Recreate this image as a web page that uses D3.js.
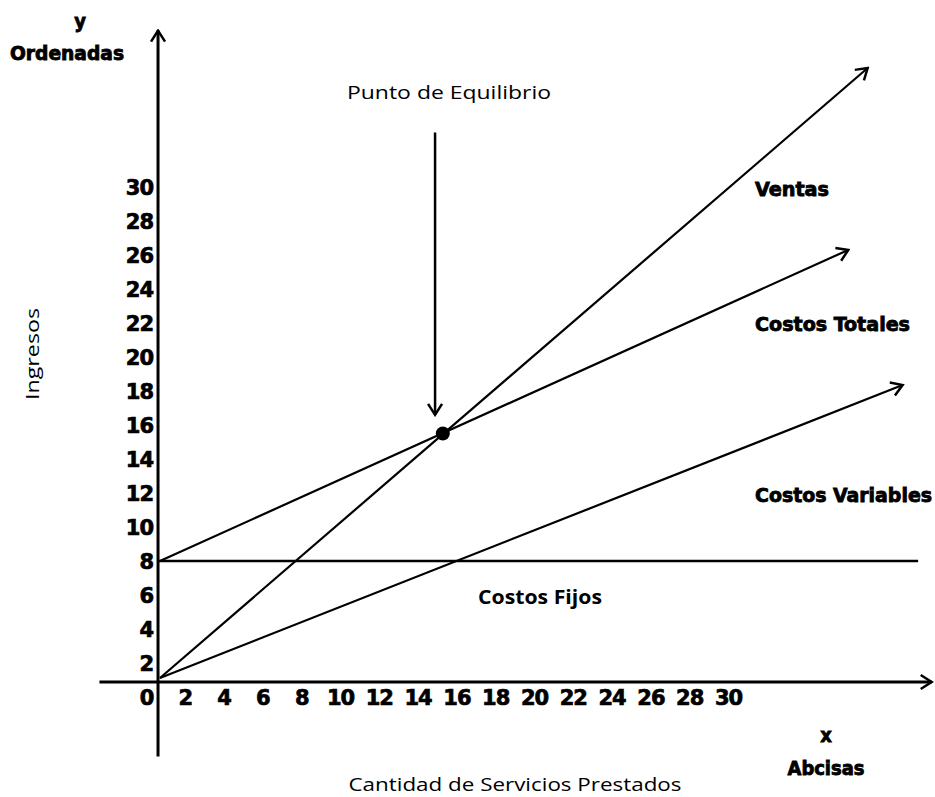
<!DOCTYPE html>
<html><head><meta charset="utf-8">
<script src="https://cdn.jsdelivr.net/npm/d3@7"></script>
<style>body{margin:0;background:#fff}</style></head>
<body><svg id="c" width="935" height="797"></svg>
<script>
// ---- data ----
const xTickValues = [0,2,4,6,8,10,12,14,16,18,20,22,24,26,28,30];
const yTickValues = [2,4,6,8,10,12,14,16,18,20,22,24,26,28,30];
const lineNames  = ["Ventas","Costos Totales","Costos Variables"];
const lineStartX = [0.72, 0.72, 0.72];
const lineStartY = [1.12, 8, 1.12];
const lineEndX   = [37.2, 36.2, 39.0];
const lineEndY   = [37.0, 26.3, 18.35];
const fixedCost  = 8;
const fixedFromX = 0.62, fixedToX = 39.8;
const breakEvenX = 15.3, breakEvenY = 15.5;
const pointerX = 14.9, pointerFromY = 33.2, pointerToY = 16.6;
const yAxisAtX = 0.62, yAxisFrom = -3.5, yAxisTo = 39.2;
const xAxisAtY = 0.88, xAxisFrom = -2.4, xAxisTo = 40.5;

const svg = d3.select("#c");
const x = d3.scaleLinear().domain([0,30]).range([146,728]);
const y = d3.scaleLinear().domain([0,30]).range([697,187]);

const defs = svg.append("defs");
defs.append("marker").attr("id","arr").attr("markerUnits","userSpaceOnUse")
  .attr("viewBox","-14 -9 16 18").attr("refX",0).attr("refY",0)
  .attr("markerWidth",16).attr("markerHeight",18).attr("orient","auto")
  .append("path").attr("d","M-11,-7L0,0L-11,7").attr("fill","none")
  .attr("stroke","#000").attr("stroke-width",2.5);

const boldFont = "'DejaVu Sans Condensed','DejaVu Sans',sans-serif";
const tickFont = "'DejaVu Sans',sans-serif";
const regFont = "'Open Sans','Noto Sans',sans-serif";

// axes lines
svg.append("line").attr("x1",x(yAxisAtX)).attr("x2",x(yAxisAtX))
  .attr("y1",y(yAxisFrom)).attr("y2",y(yAxisTo)).attr("stroke","#000")
  .attr("stroke-width",3).attr("marker-end","url(#arr)");
svg.append("line").attr("x1",x(xAxisFrom)).attr("x2",x(xAxisTo))
  .attr("y1",y(xAxisAtY)).attr("y2",y(xAxisAtY)).attr("stroke","#000")
  .attr("stroke-width",3).attr("marker-end","url(#arr)");

// tick labels
function styleTicks(g){
  g.select(".domain").remove();
  g.selectAll("text").attr("dy","0.36em")
    .attr("font-family",tickFont).attr("font-weight","bold").attr("font-size",21)
    .attr("letter-spacing",-1).attr("fill","#000")
    .attr("stroke","#000").attr("stroke-width",0.7);
}
const gx = svg.append("g").attr("transform",`translate(0,${y(0)})`)
  .call(d3.axisBottom(x).tickValues(xTickValues).tickSize(0).tickPadding(0).tickFormat(d3.format("d")));
styleTicks(gx); gx.selectAll("text").attr("y",0);

const gy = svg.append("g").attr("transform",`translate(153,0)`)
  .call(d3.axisLeft(y).tickValues(yTickValues).tickSize(0).tickPadding(0).tickFormat(d3.format("d")));
styleTicks(gy); gy.selectAll("text").attr("x",0);

// fixed cost line
svg.append("line").attr("x1",x(fixedFromX)).attr("x2",x(fixedToX))
  .attr("y1",y(fixedCost)).attr("y2",y(fixedCost))
  .attr("stroke","#000").attr("stroke-width",2.5);

// cost / sales lines
lineNames.forEach((n,i)=>{
  svg.append("line").attr("x1",x(lineStartX[i])).attr("y1",y(lineStartY[i]))
    .attr("x2",x(lineEndX[i])).attr("y2",y(lineEndY[i]))
    .attr("stroke","#000").attr("stroke-width",2.2).attr("marker-end","url(#arr)");
});

// pointer arrow
svg.append("line").attr("x1",x(pointerX)).attr("x2",x(pointerX))
  .attr("y1",y(pointerFromY)).attr("y2",y(pointerToY))
  .attr("stroke","#000").attr("stroke-width",2.5).attr("marker-end","url(#arr)");

// break-even dot
svg.append("circle").attr("cx",x(breakEvenX)).attr("cy",y(breakEvenY)).attr("r",7).attr("fill","#000");

// texts
function txt(t, cx, cy, len, opts){
  const e = svg.append("text").text(t).attr("x",cx).attr("y",cy).attr("dy","0.36em")
    .attr("font-family",opts.bold?boldFont:regFont)
    .attr("font-weight",opts.weight||(opts.bold?"bold":"normal"))
    .attr("font-size",opts.size||18).attr("fill","#000")
    .attr("text-anchor",opts.anchor||"middle");
  if(opts.bold) e.attr("stroke","#000").attr("stroke-width",0.8);
  if(len) e.attr("textLength",len).attr("lengthAdjust","spacingAndGlyphs");
  if(opts.rotate) e.attr("transform",`rotate(-90,${cx},${cy})`);
  return e;
}
txt("y", 80, 21, null, {bold:true, size:20});
txt("Ordenadas", 67, 53, 114, {bold:true, size:20});
txt("Ventas", 755, 189, 74, {bold:true, size:20, anchor:"start"});
txt("Costos Totales", 755, 324, 155, {bold:true, size:20, anchor:"start"});
txt("Costos Variables", 755, 495, 177, {bold:true, size:20, anchor:"start"});
txt("Punto de Equilibrio", 449, 92, 204, {size:19});
txt("Costos Fijos", 540, 597, 124, {size:19, weight:"bold"});
txt("Ingresos", 32, 354, 92, {size:19, rotate:true});
txt("x", 826, 735, null, {bold:true, size:20});
txt("Abcisas", 826, 768, 77, {bold:true, size:20});
txt("Cantidad de Servicios Prestados", 515, 784, 333, {size:19});
</script></body></html>
